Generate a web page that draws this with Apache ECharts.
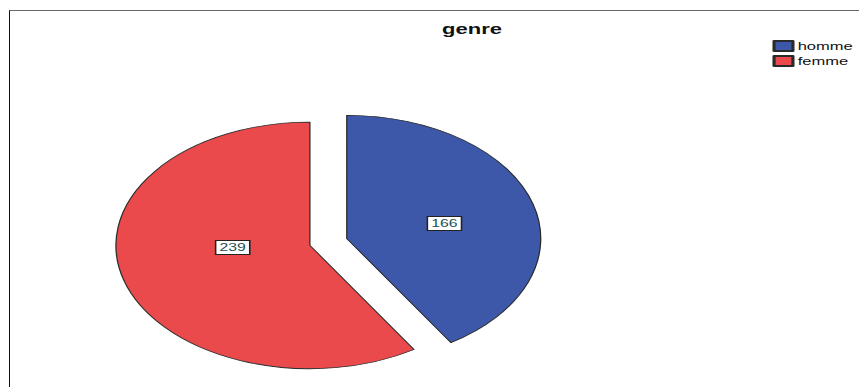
<!DOCTYPE html>
<html>
<head>
<meta charset="utf-8">
<script src="https://cdn.jsdelivr.net/npm/echarts@6/dist/echarts.min.js"></script>
<style>
  html, body { margin: 0; padding: 0; background: #fff; }
  #wrap { position: relative; width: 859px; height: 387px; overflow: hidden; background: #fff; }
  #frame { position: absolute; left: 9px; top: 10px; width: 900px; height: 500px;
           border-left: 1px solid #111; border-top: 1px solid #6a6a6a; }
  /* the chart is laid out narrow and stretched sideways, giving the oval pie */
  #chart { position: absolute; left: 0; top: 0; width: 546px; height: 387px;
           transform-origin: 0 0; }
</style>
</head>
<body>
<div id="wrap">
  <div id="frame"></div>
  <div id="chart"></div>
</div>
<script>
// genre counts
const titleText = 'genre';
const categories = ['homme', 'femme'];
const counts = [166, 239];

const SX = 859 / 546;
const chartEl = document.getElementById('chart');
chartEl.style.transform = 'scaleX(' + SX + ')';

const sliceColors = ['#3d58a8', '#ea4a4b'];
// per-slice nudge of the value box
const labelNudge = [[0, 3], [13, -16]];

const chart = echarts.init(chartEl, null, { renderer: 'svg' });

chart.setOption({
  animation: false,
  backgroundColor: 'transparent',
  title: {
    text: titleText,
    left: 295,
    top: 17,
    textAlign: 'center',
    textStyle: { fontFamily: 'Liberation Sans', fontWeight: 'bold', fontSize: 14, color: '#111' }
  },
  legend: {
    orient: 'vertical',
    left: 491,
    top: 40,
    padding: 0,
    itemWidth: 12,
    itemHeight: 10,
    itemGap: 3,
    icon: 'rect',
    selectedMode: false,
    data: categories,
    textStyle: { fontFamily: 'Liberation Sans', fontSize: 10.5, color: '#111', padding: [0, 0, 0, -2] }
  },
  series: [{
    type: 'pie',
    center: [208.7, 242],
    radius: [0, 123.3],
    startAngle: 90,
    clockwise: true,
    selectedMode: 'multiple',
    selectedOffset: 12.2,
    silent: true,
    itemStyle: { borderColor: '#2a2a2a', borderWidth: 0.8 },
    label: {
      show: true,
      position: 'inside',
      formatter: '{c}',
      fontFamily: 'Liberation Sans',
      fontSize: 10,
      color: '#22504f',
      backgroundColor: '#fff',
      borderColor: '#222',
      borderWidth: 1,
      padding: [2, 2, 1, 2]
    },
    labelLine: { show: false },
    labelLayout: function (params) {
      const n = labelNudge[params.dataIndex];
      return { dx: n[0], dy: n[1] };
    },
    emphasis: { disabled: true },
    data: categories.map((name, i) => ({
      name: name,
      value: counts[i],
      selected: true,
      itemStyle: { color: sliceColors[i] }
    }))
  }]
});
</script>
</body>
</html>
